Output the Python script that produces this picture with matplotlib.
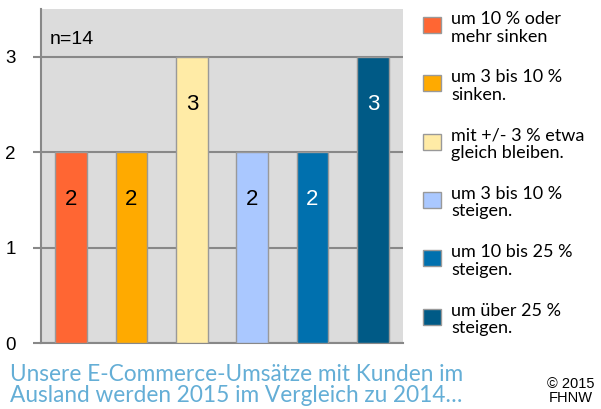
import matplotlib.pyplot as plt
from matplotlib.patches import Rectangle

# Antworten (n=14)
kategorien = ["um 10 % oder\nmehr sinken", "um 3 bis 10 %\nsinken.", "mit +/- 3 % etwa\ngleich bleiben.",
              "um 3 bis 10 %\nsteigen.", "um 10 bis 25 %\nsteigen.", "um über 25 %\nsteigen."]
werte = [2, 2, 3, 2, 2, 3]
farben = ["#FF6633", "#FFAA00", "#FFEBA6", "#AAC8FF", "#0070AE", "#005A86"]
textfarben = ["black", "black", "black", "black", "white", "white"]

fig = plt.figure(figsize=(6.01, 4.09), dpi=100)
ax = fig.add_axes([41/601, 1-343/409, 362/601, 334/409])
ax.set_facecolor("#DCDCDC")

x = range(len(werte))
ax.bar(x, werte, width=0.53, color=farben, edgecolor="#999999", linewidth=1, zorder=3)
for i, v in enumerate(werte):
    ax.text(i, v - 0.5, str(v), ha="center", va="center", fontsize=16,
            color=textfarben[i], family="Liberation Sans", zorder=4)

ax.set_xlim(-0.5, 5.5)
ax.set_ylim(0, 3.5)
ax.set_yticks([0, 1, 2, 3])
ax.set_xticks([])
ax.yaxis.grid(True, color="#888888", linewidth=1.5, zorder=1)
ax.set_axisbelow(True)
for s in ["top", "right", "bottom"]:
    ax.spines[s].set_visible(False)
ax.spines["left"].set_color("#888888")
ax.spines["left"].set_linewidth(1.5)
ax.tick_params(axis="y", length=6, width=1.5, color="#888888", pad=12, labelsize=13.5)
for lab in ax.get_yticklabels():
    lab.set_family("Liberation Sans")
ax.axhline(0, color="#888888", linewidth=1.5, zorder=2, clip_on=False)

ax.text(0.025, 0.91, "n=14", transform=ax.transAxes, fontsize=14, family="Liberation Sans",
        va="center", ha="left")

# Legende
W, H = 601, 409
for i, (lab, c) in enumerate(zip(kategorien, farben)):
    yc = 25 + i * 58.3
    fig.patches.append(Rectangle((423/W, 1-(yc+8)/H), 18/W, 16/H, transform=fig.transFigure,
                                 facecolor=c, edgecolor="#999999", linewidth=1))
    fig.text(451/W, 1-(yc-14)/H, lab, fontsize=13, family="Lato", va="top", ha="left",
             linespacing=1.12)

fig.text(10/W, 1-385/H, "Unsere E-Commerce-Umsätze mit Kunden im\nAusland werden 2015 im Vergleich zu 2014…",
         fontsize=16.3, family="Lato", color="#64AED6", va="center", ha="left", linespacing=1.0)
fig.text(571/W, 1-391/H, "© 2015\nFHNW", fontsize=10.5, family="Liberation Sans", va="center",
         ha="center", linespacing=1.0)

fig.savefig("out.png", dpi=100)
